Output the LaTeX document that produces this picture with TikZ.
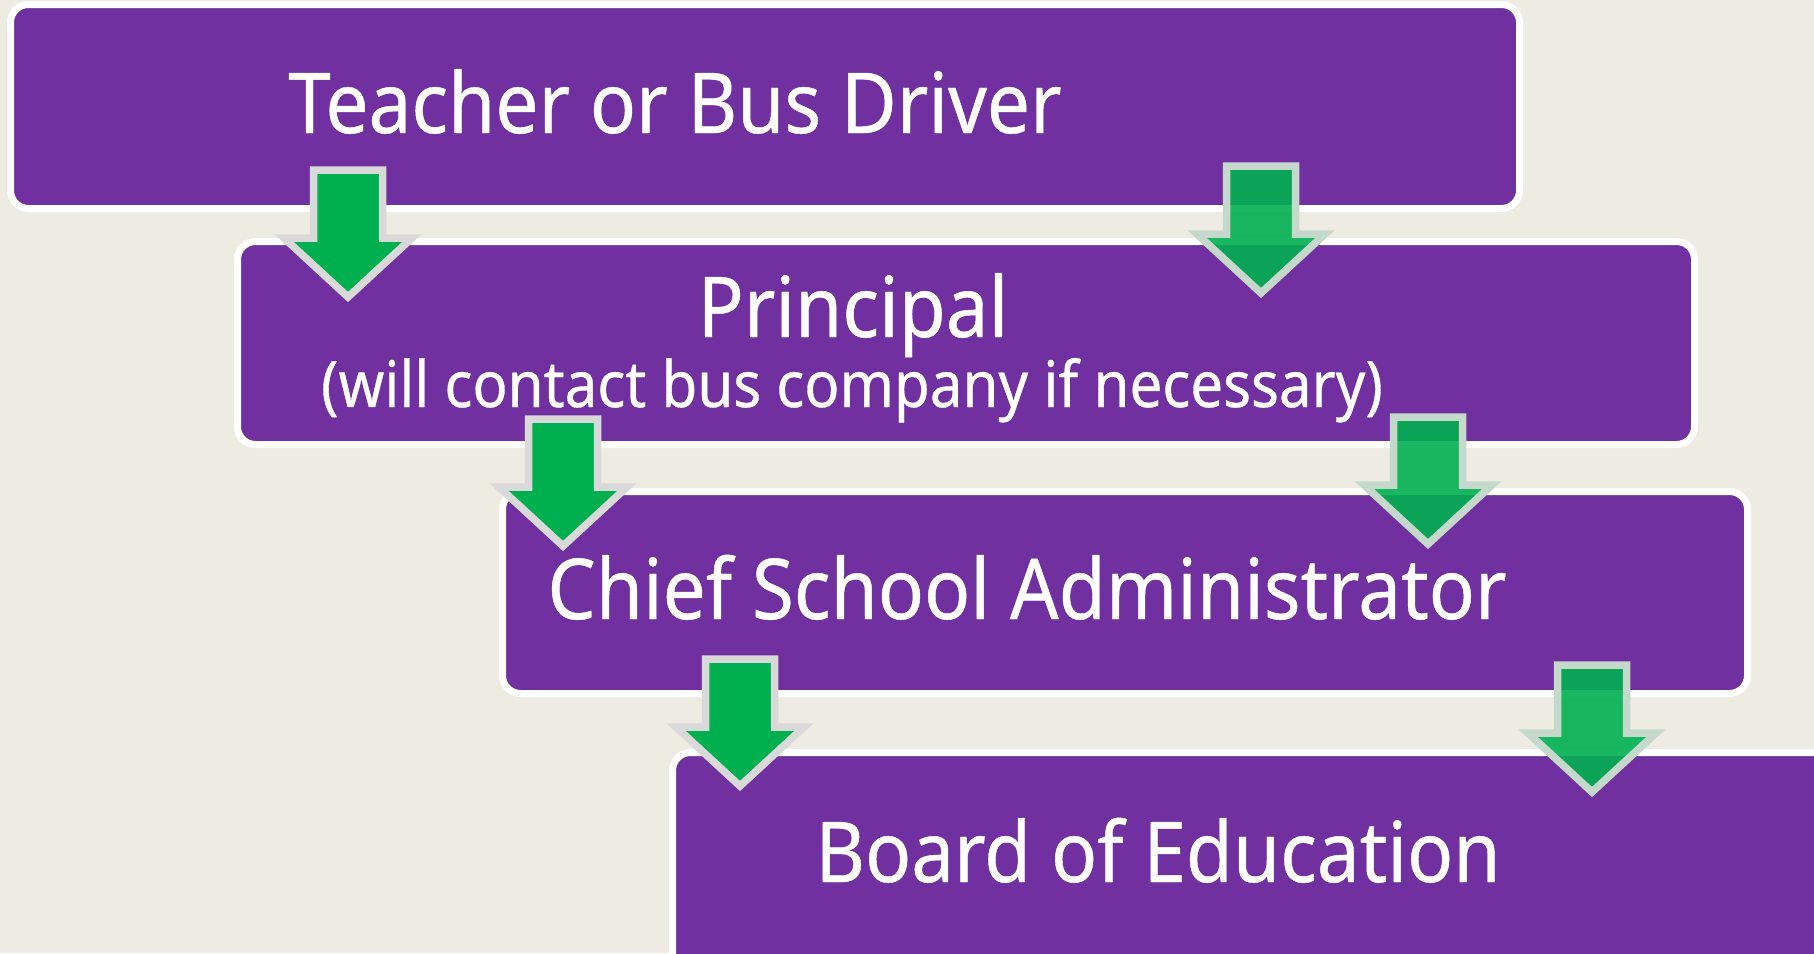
\documentclass[tikz,border=0pt]{standalone}
\usepackage{fontspec}
\setmainfont{Noto Sans}[FakeStretch=0.91, FakeBold=0.5]

\definecolor{bgbeige}{RGB}{238,235,227}
\definecolor{boxpurple}{RGB}{112,48,160}
\definecolor{arrowgreen}{RGB}{0,176,80}
\definecolor{rimgray}{RGB}{217,217,217}
\definecolor{rimsage}{RGB}{197,216,204}

\tikzset{
	box/.style={fill=boxpurple, draw=white, line width=3.5pt, rounded corners=9pt},
	title/.style={text=white, anchor=base, inner sep=0pt, font=\fontsize{42}{50}\selectfont},
	note/.style={text=white, anchor=base, inner sep=0pt, font=\fontsize{32}{38}\selectfont},
	downarrow/.pic={
			\path[pic actions, line width=3.75pt]
			(-34.5,0) -- (34.5,0) -- (34.5,68) -- (64,68) -- (0,127) -- (-64,68) -- (-34.5,68) -- cycle;
		},
	solidarrow/.style={fill=arrowgreen, draw=rimgray},
	fadedarrow/.style={fill=arrowgreen, fill opacity=.9, draw=rimsage},
}

\begin{document}
\begin{tikzpicture}[x=.5pt, y=-.5pt]
	\fill[bgbeige] (0, 0) rectangle (1814, 953);
	\useasboundingbox (0, 0) rectangle (1814, 953);
	\clip (0, 0) rectangle (1814, 953);

	% the four levels, each one stepped to the right
	\draw[box] (10.5, 4.5) rectangle (1519.5, 208.5);
	\draw[box] (237.5, 241.5) rectangle (1694.5, 444.5);
	\draw[box] (502.5, 491.5) rectangle (1747.5, 693.5);
	\draw[box] (672.5, 752.5) rectangle (1840, 990);

	\node[title] (teacher) at (675, 133) {Teacher or Bus Driver};
	\node[title] (principal) at (853, 337) {Principal};
	\node[note] (busnote) at (852, 407) {(will contact bus company if necessary)};
	\node[title] (chief) at (1027, 619) {Chief School Administrator};
	\node[title] (board) at (1158, 882) {Board of Education};

	% arrows down to the next level
	\pic[solidarrow] (down1) at (348, 170) {downarrow};
	\pic[fadedarrow] (fade1) at (1261, 166) {downarrow};
	\pic[solidarrow] (down2) at (563, 419) {downarrow};
	\pic[fadedarrow] (fade2) at (1428, 417) {downarrow};
	\pic[solidarrow] (down3) at (740, 659) {downarrow};
	\pic[fadedarrow] (fade3) at (1592, 665) {downarrow};

\end{tikzpicture}
\end{document}
